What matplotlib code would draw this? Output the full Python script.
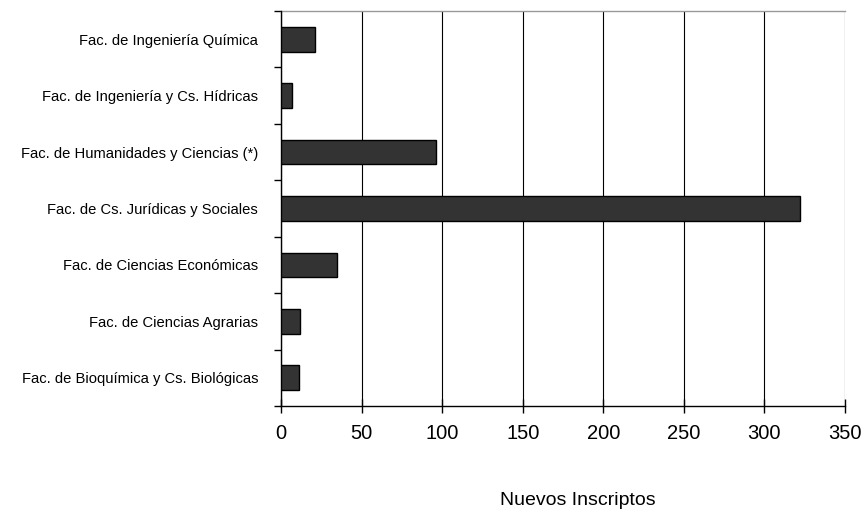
import matplotlib
matplotlib.use("Agg")
import matplotlib.pyplot as plt
from matplotlib import font_manager
import numpy as np

categories = [
    "Fac. de Bioquímica y Cs. Biológicas",
    "Fac. de Ciencias Agrarias",
    "Fac. de Ciencias Económicas",
    "Fac. de Cs. Jurídicas y Sociales",
    "Fac. de Humanidades y Ciencias (*)",
    "Fac. de Ingeniería y Cs. Hídricas",
    "Fac. de Ingeniería Química",
]
values = [11, 12, 35, 322, 96, 7, 21]
xticks = [0, 50, 100, 150, 200, 250, 300, 350]
xlabel = "Nuevos Inscriptos"

names = {f.name for f in font_manager.fontManager.ttflist}
label_font = "Liberation Sans Narrow" if "Liberation Sans Narrow" in names else "Liberation Sans"
label_size = 11.5 if label_font == "Liberation Sans Narrow" else 10.6

fig = plt.figure(figsize=(8.66, 5.12), dpi=100)
ax = fig.add_axes([0.3245, 0.207, 0.6512, 0.7715])

y = np.arange(len(categories))
ax.barh(y, values, height=0.44, color="#333333", edgecolor="black", linewidth=1.0, zorder=3)

ax.set_xlim(0, 350)
ax.set_ylim(-0.5, len(categories) - 0.5)
ax.set_xticks(xticks)
ax.set_xticklabels([str(t) for t in xticks], fontsize=14.5, family="Liberation Sans")
ax.tick_params(axis="x", length=10, width=1, pad=8, color="black", direction="inout")
ax.set_yticks(y)
ax.set_yticklabels(categories, fontsize=label_size, family=label_font)
ax.tick_params(axis="y", which="major", length=0, pad=16.5)
ax.set_yticks(np.arange(-0.5, len(categories), 1.0), minor=True)
ax.tick_params(axis="y", which="minor", length=5, width=1, color="black")

ax.grid(axis="x", color="black", linewidth=0.8, zorder=0)
for s in ["top", "right"]:
    ax.spines[s].set_visible(False)
ax.spines["left"].set_linewidth(1)
ax.spines["bottom"].set_linewidth(1)
ax.plot([0, 1], [1, 1], transform=ax.transAxes, color="#999999", linewidth=1, clip_on=False)

fig.text(0.667, 0.023, xlabel, ha="center", va="center", fontsize=14, family="Liberation Sans")

fig.savefig("out.png", dpi=100)
